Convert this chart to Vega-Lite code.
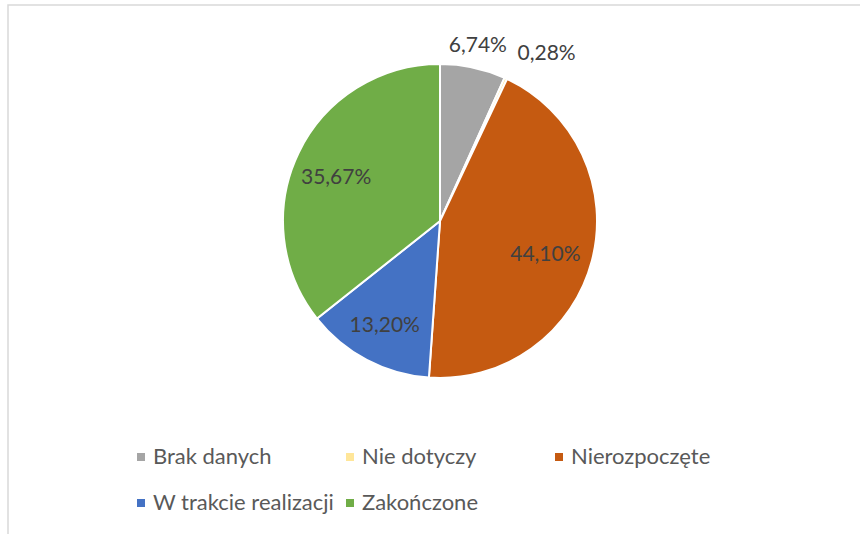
{
  "$schema": "https://vega.github.io/schema/vega-lite/v6.json",
  "width": 856,
  "height": 533,
  "autosize": {"type": "none"},
  "padding": {"left": 8, "top": 5, "right": -4, "bottom": -4},
  "background": "white",
  "view": {"stroke": "#d9d9d9", "strokeWidth": 1.5},
  "config": {
    "view": {"stroke": "#d9d9d9", "strokeWidth": 1.5},
    "font": "Lato",
    "text": {"font": "Lato"}
  },
  "data": {
    "values": [
      {"status": "Brak danych", "value": 6.74, "label": "6,74%"},
      {"status": "Nie dotyczy", "value": 0.28, "label": "0,28%"},
      {"status": "Nierozpoczęte", "value": 44.10, "label": "44,10%"},
      {"status": "W trakcie realizacji", "value": 13.20, "label": "13,20%"},
      {"status": "Zakończone", "value": 35.67, "label": "35,67%"}
    ]
  },
  "encoding": {
    "theta": {"field": "value", "type": "quantitative", "stack": true},
    "order": {"field": "status", "type": "ordinal", "sort": "ascending"},
    "color": {
      "field": "status",
      "type": "nominal",
      "scale": {
        "domain": ["Brak danych", "Nie dotyczy", "Nierozpoczęte", "W trakcie realizacji", "Zakończone"],
        "range": ["#A5A5A5", "#FFE699", "#C55A11", "#4472C4", "#70AD47"]
      },
      "legend": {
        "orient": "none",
        "legendX": 122,
        "legendY": 441,
        "direction": "horizontal",
        "columns": 3,
        "gridAlign": "all",
        "title": null,
        "symbolType": "square",
        "symbolSize": 64,
        "symbolStrokeWidth": 0,
        "labelFontSize": 22,
        "labelFont": "Lato",
        "labelColor": "#595959",
        "labelOffset": 1,
        "labelLimit": 300,
        "columnPadding": 4,
        "rowPadding": 24
      }
    }
  },
  "layer": [
    {
      "mark": {"type": "arc", "radius": 157, "x": 432, "y": 216, "stroke": "white", "strokeWidth": 2}
    },
    {
      "mark": {"type": "text", "radius": 112, "x": 432, "y": 216, "dx": -3, "dy": 6, "fontSize": 21, "baseline": "middle", "align": "center"},
      "encoding": {
        "text": {"condition": {"test": "datum.value > 10", "field": "label"}, "value": ""},
        "fill": {"value": "#404040"}
      }
    },
    {
      "mark": {"type": "text", "radius": 180, "x": 432, "y": 216, "dy": 1, "fontSize": 21, "baseline": "middle", "align": "center"},
      "encoding": {
        "text": {"condition": {"test": "datum.value > 1 && datum.value < 10", "field": "label"}, "value": ""},
        "fill": {"value": "#404040"}
      }
    },
    {
      "mark": {"type": "text", "radius": 185, "x": 432, "y": 216, "dy": 1, "fontSize": 21, "baseline": "middle", "align": "left"},
      "encoding": {
        "text": {"condition": {"test": "datum.value < 1", "field": "label"}, "value": ""},
        "fill": {"value": "#404040"}
      }
    }
  ]
}
